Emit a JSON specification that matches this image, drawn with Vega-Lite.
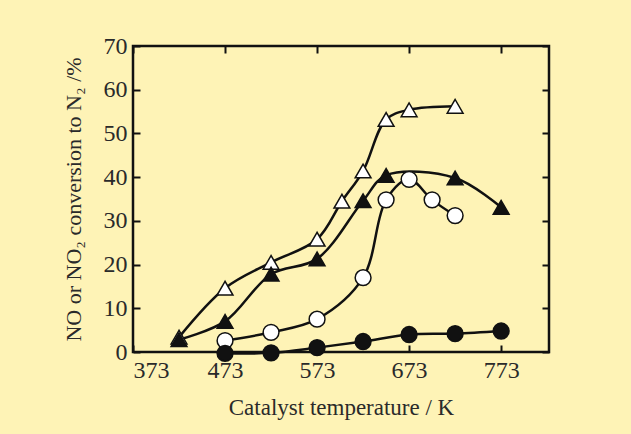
{
  "$schema": "https://vega.github.io/schema/vega-lite/v6.json",
  "autosize": {"type": "none"},
  "width": 416,
  "height": 306,
  "padding": {"left": 133, "top": 46, "right": 82, "bottom": 82},
  "background": "#fef3b6",
  "config": {
    "view": {"stroke": "#111111", "strokeWidth": 2.5, "fill": "#fef3b6"},
    "font": "Liberation Serif",
    "axis": {
      "domain": false,
      "grid": false,
      "tickColor": "#111111",
      "tickWidth": 2,
      "tickSize": -7,
      "labelFont": "Liberation Serif",
      "labelFontSize": 24,
      "labelColor": "#2a2a2a",
      "titleFont": "Liberation Serif",
      "titleFontWeight": "normal",
      "titleColor": "#2a2a2a"
    }
  },
  "data": {
    "values": [
      {"series": "open triangle", "T": 423, "V": 3.4},
      {"series": "open triangle", "T": 473, "V": 14.6},
      {"series": "open triangle", "T": 523, "V": 20.5},
      {"series": "open triangle", "T": 573, "V": 25.8},
      {"series": "open triangle", "T": 600, "V": 34.5},
      {"series": "open triangle", "T": 623, "V": 41.4},
      {"series": "open triangle", "T": 648, "V": 53.2},
      {"series": "open triangle", "T": 673, "V": 55.4},
      {"series": "open triangle", "T": 723, "V": 56.2},
      {"series": "filled triangle", "T": 423, "V": 2.8},
      {"series": "filled triangle", "T": 473, "V": 7.0},
      {"series": "filled triangle", "T": 523, "V": 17.8},
      {"series": "filled triangle", "T": 573, "V": 21.3},
      {"series": "filled triangle", "T": 623, "V": 34.6},
      {"series": "filled triangle", "T": 648, "V": 40.4},
      {"series": "filled triangle", "T": 723, "V": 39.8},
      {"series": "filled triangle", "T": 773, "V": 33.1},
      {"series": "open circle", "T": 473, "V": 2.6},
      {"series": "open circle", "T": 523, "V": 4.5},
      {"series": "open circle", "T": 573, "V": 7.5},
      {"series": "open circle", "T": 623, "V": 17.0},
      {"series": "open circle", "T": 648, "V": 34.8},
      {"series": "open circle", "T": 673, "V": 39.5},
      {"series": "open circle", "T": 698, "V": 34.8},
      {"series": "open circle", "T": 723, "V": 31.2},
      {"series": "filled circle", "T": 473, "V": -0.3},
      {"series": "filled circle", "T": 523, "V": -0.2},
      {"series": "filled circle", "T": 573, "V": 1.0},
      {"series": "filled circle", "T": 623, "V": 2.4},
      {"series": "filled circle", "T": 673, "V": 4.0},
      {"series": "filled circle", "T": 723, "V": 4.2},
      {"series": "filled circle", "T": 773, "V": 4.8}
    ]
  },
  "layer": [
    {
      "mark": {"type": "line", "interpolate": "catmull-rom", "color": "#111111", "strokeWidth": 2.5, "clip": false},
      "encoding": {
        "x": {"field": "T", "type": "quantitative", "scale": {"domain": [373, 825], "zero": false, "nice": false},
          "axis": {"orient": "bottom", "values": [373, 473, 573, 673, 773], "title": "Catalyst temperature / K", "labelPadding": 13, "titlePadding": 14, "titleFontSize": 23}},
        "y": {"field": "V", "type": "quantitative", "scale": {"domain": [0, 70], "nice": false},
          "axis": {"orient": "left", "values": [0, 10, 20, 30, 40, 50, 60, 70], "title": "NO or NO₂ conversion to N₂ /%", "labelPadding": 13, "titlePadding": 18, "titleFontSize": 22}},
        "detail": {"field": "series"}
      }
    },
    {
      "mark": {"type": "point", "filled": true, "stroke": "#111111", "strokeWidth": 1.5, "opacity": 1, "size": 250, "clip": false},
      "encoding": {
        "x": {"field": "T", "type": "quantitative",
          "axis": {"orient": "top", "values": [373, 473, 573, 673, 773], "labels": false, "title": null}},
        "y": {"field": "V", "type": "quantitative",
          "axis": {"orient": "right", "values": [0, 10, 20, 30, 40, 50, 60, 70], "labels": false, "title": null}},
        "shape": {"field": "series", "type": "nominal",
          "scale": {"domain": ["open triangle", "filled triangle", "open circle", "filled circle"], "range": ["triangle-up", "triangle-up", "circle", "circle"]},
          "legend": null},
        "fill": {"field": "series", "type": "nominal",
          "scale": {"domain": ["open triangle", "filled triangle", "open circle", "filled circle"], "range": ["#ffffff", "#111111", "#ffffff", "#111111"]},
          "legend": null}
      }
    }
  ],
  "resolve": {"axis": {"x": "independent", "y": "independent"}}
}
